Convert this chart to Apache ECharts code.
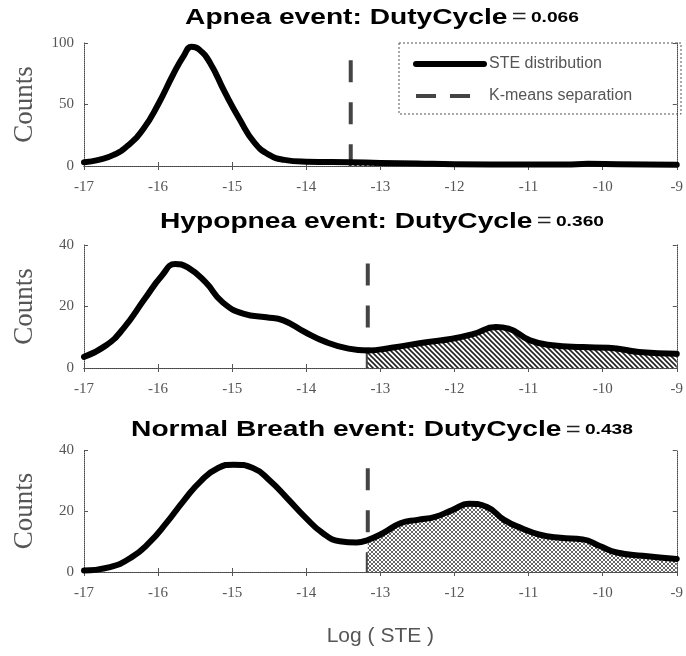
<!DOCTYPE html>
<html>
<head>
<meta charset="utf-8">
<script src="https://cdn.jsdelivr.net/npm/echarts@6/dist/echarts.min.js"></script>
<style>
  html, body { margin: 0; padding: 0; background: #fff; }
  #chart { width: 686px; height: 656px; }
</style>
</head>
<body>
<div id="chart"></div>
<script>
// x range of every panel: log of the short-time energy
const xMin = -17
const xMax = -9

const apneaX = [-17, -16.8, -16.6, -16.4, -16.2, -16.0, -15.8, -15.65, -15.55, -15.45, -15.3, -15.1, -14.9, -14.7, -14.5, -14.3, -14.0, -13.4, -13.0, -12.5, -12.0, -11.0, -10.5, -10.2, -9.8, -9]
const apneaCounts = [3, 5, 9, 17, 30, 50, 74, 90, 97, 95, 84, 60, 38, 19, 9, 5, 3.5, 3, 2.5, 2, 1.5, 1.2, 1.2, 1.8, 1.5, 1]

const hypopneaX = [-17, -16.7, -16.47, -16.18, -15.95, -15.77, -15.6, -15.36, -15.13, -14.84, -14.54, -14.31, -14.02, -13.73, -13.43, -13.17, -12.85, -12.38, -12.03, -11.74, -11.44, -11.27, -10.98, -10.68, -10.27, -9.92, -9.51, -9]
const hypopneaCounts = [3.6, 7.4, 12.8, 22.5, 30, 33.8, 32.7, 27.9, 21.4, 17.6, 16.5, 15.5, 11.7, 8.4, 6.3, 5.7, 6.6, 8.4, 9.5, 11.1, 13.3, 12.8, 9, 7.4, 6.8, 6.6, 5.2, 4.6]

const normalX = [-17, -16.65, -16.36, -16.12, -15.89, -15.65, -15.42, -15.19, -14.98, -14.72, -14.49, -14.25, -14.02, -13.78, -13.55, -13.32, -13.17, -12.96, -12.73, -12.5, -12.26, -12.03, -11.8, -11.56, -11.33, -11.1, -10.86, -10.57, -10.27, -10.04, -9.81, -9.46, -9]
const normalCounts = [0.5, 1.6, 4.8, 9.6, 16, 23.5, 29.9, 34.1, 35.2, 34.1, 29.9, 24, 18.1, 12.8, 10.1, 9.7, 10.5, 12.8, 16, 17.1, 18.1, 20.3, 22.4, 21.3, 17.1, 14.4, 12.3, 11.2, 10.7, 8.5, 6.4, 5.3, 4.3]

const panelTitles = ['Apnea event: DutyCycle', 'Hypopnea event: DutyCycle', 'Normal Breath event: DutyCycle']
const dutyCycles = ['0.066', '0.360', '0.438']
const sepX = [-13.4, -13.17, -13.17]      // K-means separation
const sepTop = [86, 34, 34]
const yMaxes = [100, 40, 40]
const yIntervals = [50, 20, 20]

const panelXs = [apneaX, hypopneaX, normalX]
const panelCounts = [apneaCounts, hypopneaCounts, normalCounts]

// layout of the three axes boxes
const gridTops = [43, 245, 450]
const gridHeights = [123, 123, 122]
const titleYs = [17.5, 221.5, 430]

function makePattern(kind) {
  const s = kind === 'diag' ? 5 : 4
  const c = document.createElement('canvas')
  c.width = s
  c.height = s
  const ctx = c.getContext('2d')
  ctx.fillStyle = '#fff'
  ctx.fillRect(0, 0, s, s)
  ctx.strokeStyle = kind === 'diag' ? '#222' : '#666'
  ctx.lineWidth = kind === 'diag' ? 1.6 : 1
  ctx.beginPath()
  ctx.moveTo(-1, -1); ctx.lineTo(s + 1, s + 1)
  ctx.moveTo(-1, s - 1); ctx.lineTo(1, s + 1)
  ctx.moveTo(s - 1, -1); ctx.lineTo(s + 1, 1)
  if (kind === 'cross') {
    ctx.moveTo(s + 1, -1); ctx.lineTo(-1, s + 1)
  }
  ctx.stroke()
  return { image: c, repeat: 'repeat' }
}
const fills = [makePattern('diag'), makePattern('diag'), makePattern('cross')]

const borderLine = { show: true, lineStyle: { color: '#444', type: 'dotted', width: 1 } }
const innerTick = { show: true, inside: true, length: 4, lineStyle: { color: '#555' } }
const labelFont = { fontFamily: 'Liberation Serif', fontSize: 15, color: '#555' }

const grid = []
const xAxis = []
const yAxis = []
const series = []
const graphic = []

for (let i = 0; i < 3; i++) {
  grid.push({ left: 84, right: 5, top: gridTops[i], height: gridHeights[i] })

  xAxis.push({
    type: 'value', gridIndex: i, min: xMin, max: xMax, interval: 1,
    axisLine: borderLine, axisTick: innerTick, splitLine: { show: false },
    axisLabel: { ...labelFont, margin: 14 },
    name: i === 2 ? 'Log ( STE )' : '',
    nameLocation: 'middle', nameGap: 54,
    nameTextStyle: { fontFamily: 'Liberation Sans', fontSize: 21, color: '#555' }
  })
  xAxis.push({
    type: 'value', gridIndex: i, min: xMin, max: xMax, interval: 1, position: 'top',
    axisLine: borderLine, axisTick: innerTick, splitLine: { show: false },
    axisLabel: { show: false }
  })
  yAxis.push({
    type: 'value', gridIndex: i, min: 0, max: yMaxes[i], interval: yIntervals[i],
    axisLine: borderLine, axisTick: innerTick, splitLine: { show: false },
    axisLabel: { ...labelFont, margin: 10 },
    name: 'Counts', nameLocation: 'middle', nameGap: 46,
    nameTextStyle: { fontFamily: 'Liberation Serif', fontSize: 27, color: '#555' }
  })
  yAxis.push({
    type: 'value', gridIndex: i, min: 0, max: yMaxes[i], interval: yIntervals[i], position: 'right',
    axisLine: borderLine, axisTick: innerTick, splitLine: { show: false },
    axisLabel: { show: false }
  })

  const pts = panelXs[i].map((x, k) => [x, panelCounts[i][k]])

  series.push({
    name: 'K-means separation', type: 'line',
    xAxisIndex: 2 * i, yAxisIndex: 2 * i,
    data: [[sepX[i], sepTop[i]], [sepX[i], 0]],
    symbol: 'none', z: 1, silent: true,
    itemStyle: { color: '#444' },
    lineStyle: { color: '#444', width: 4, type: [22, 20] }
  })
  series.push({
    name: 'area' + i, type: 'line',
    xAxisIndex: 2 * i, yAxisIndex: 2 * i,
    data: pts.filter(p => p[0] >= sepX[i]),
    symbol: 'none', smooth: 0.5, z: 2, silent: true,
    lineStyle: { width: 0, opacity: 0 },
    areaStyle: { color: fills[i], opacity: 1 }
  })
  series.push({
    name: 'STE distribution', type: 'line',
    xAxisIndex: 2 * i, yAxisIndex: 2 * i,
    data: pts,
    symbol: 'none', smooth: 0.5, z: 3, silent: true,
    itemStyle: { color: '#000' },
    lineStyle: { color: '#000', width: 6, cap: 'round', join: 'round' }
  })

  graphic.push({
    type: 'text', x: 382, y: titleYs[i], scaleX: 1.28,
    style: {
      text: '{a|' + panelTitles[i] + '} {b|=} {c|' + dutyCycles[i] + '}',
      align: 'center', verticalAlign: 'middle',
      textAlign: 'center', textVerticalAlign: 'middle',
      rich: {
        a: { fontFamily: 'Liberation Sans', fontWeight: 'bold', fontSize: 22, fill: '#000', color: '#000' },
        b: { fontFamily: 'Liberation Sans', fontSize: 20, fill: '#222', color: '#222' },
        c: { fontFamily: 'Liberation Sans', fontWeight: 'bold', fontSize: 15, fill: '#000', color: '#000' }
      }
    }
  })
}

// legend box of the top panel
graphic.push({
  type: 'rect',
  shape: { x: 399, y: 43, width: 282, height: 71 },
  style: { fill: 'rgba(0,0,0,0)', stroke: '#555', lineWidth: 1, lineDash: [2, 2] }
})

const chart = echarts.init(document.getElementById('chart'))
chart.setOption({
  animation: false,
  backgroundColor: '#fff',
  grid,
  xAxis,
  yAxis,
  series,
  graphic,
  legend: {
    data: [
      { name: 'STE distribution', itemStyle: { opacity: 0 }, lineStyle: { width: 6, color: '#000' } },
      { name: 'K-means separation', itemStyle: { opacity: 0 }, lineStyle: { width: 4, color: '#444', type: [20, 14] } }
    ],
    orient: 'vertical', left: 413, top: 56, padding: 0,
    itemWidth: 68, itemHeight: 14, itemGap: 16,
    textStyle: { fontFamily: 'Liberation Sans', fontSize: 16, color: '#555' }
  }
})
</script>
</body>
</html>
